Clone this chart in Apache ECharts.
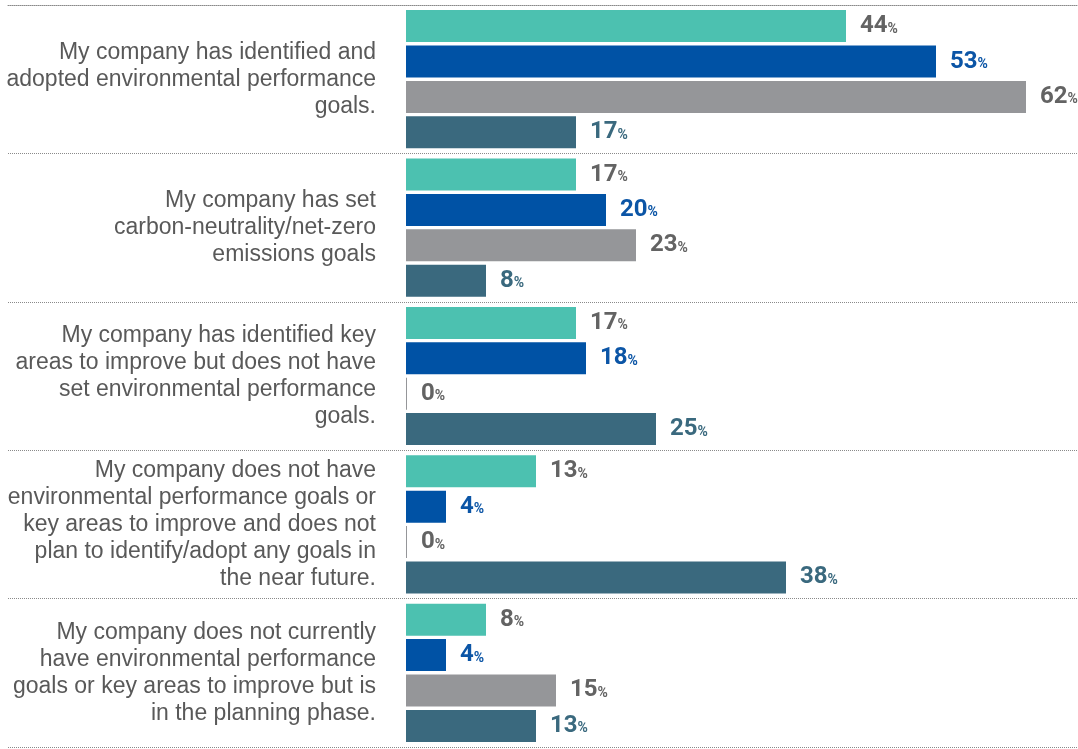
<!DOCTYPE html>
<html>
<head>
<meta charset="utf-8">
<script src="https://cdn.jsdelivr.net/npm/echarts@6/dist/echarts.min.js"></script>
<style>
  html, body { margin: 0; padding: 0; background: #ffffff; }
  #chart { width: 1078px; height: 749px; }
</style>
</head>
<body>
<div id="chart"></div>
<script>
// Survey statements (one row per statement, top to bottom)
const categories = [
  'My company has identified and\nadopted environmental performance\ngoals.',
  'My company has set\ncarbon-neutrality/net-zero\nemissions goals',
  'My company has identified key\nareas to improve but does not have\nset environmental performance\ngoals.',
  'My company does not have\nenvironmental performance goals or\nkey areas to improve and does not\nplan to identify/adopt any goals in\nthe near future.',
  'My company does not currently\nhave environmental performance\ngoals or key areas to improve but is\nin the planning phase.'
];

// Share of respondents (%) for each of the four respondent groups
const groupA = [44, 17, 17, 13, 8];
const groupB = [53, 20, 18, 4, 4];
const groupC = [62, 23, 0, 0, 15];
const groupD = [17, 8, 25, 38, 13];

const barColors   = ['#4cc1b0', '#0052a5', '#959699', '#3a697e'];
const labelColors = ['#636363', '#0b55a6', '#636363', '#3a697e'];

const numberFont = "Roboto, 'Liberation Sans', sans-serif";
const dotted = { color: '#8a8a8a', width: 1, type: [1, 1] };

function makeSeries(name, data, idx) {
  const c = labelColors[idx];
  return {
    name: name,
    type: 'bar',
    data: data,
    barWidth: 32,
    barGap: '10.6%',
    barMinHeight: 1,
    itemStyle: { color: barColors[idx] },
    silent: true,
    label: {
      show: true,
      position: 'right',
      distance: 14,
      formatter: p => '{n|' + p.value + '}{p|%}',
      rich: {
        n: { fontFamily: numberFont, fontWeight: 'bold', fontSize: 24, lineHeight: 24, color: c, verticalAlign: 'bottom' },
        p: { fontFamily: numberFont, fontWeight: 'bold', fontSize: 14, lineHeight: 14, color: c, verticalAlign: 'bottom', padding: [0, 0, 2, 0] }
      }
    }
  };
}

const chart = echarts.init(document.getElementById('chart'), null, { renderer: 'canvas' });

chart.setOption({
  backgroundColor: '#ffffff',
  animation: false,
  grid: { left: 8, right: 0, top: 5, bottom: 2, containLabel: false },
  xAxis: {
    type: 'value',
    position: 'top',
    min: -39.8,
    max: 67.2,
    axisLine: { show: true, onZero: false, lineStyle: dotted },
    axisTick: { show: false },
    axisLabel: { show: false },
    splitLine: { show: false }
  },
  yAxis: {
    type: 'category',
    data: categories,
    inverse: true,
    axisLine: { show: false },
    axisTick: { show: false },
    splitLine: { show: true, interval: 0, lineStyle: dotted },
    axisLabel: {
      inside: true,
      margin: 368,
      align: 'right',
      interval: 0,
      fontFamily: "'Liberation Sans', Arial, sans-serif",
      fontSize: 23,
      lineHeight: 27,
      color: '#595959'
    }
  },
  series: [
    makeSeries('A', groupA, 0),
    makeSeries('B', groupB, 1),
    makeSeries('C', groupC, 2),
    makeSeries('D', groupD, 3)
  ]
});
</script>
</body>
</html>
